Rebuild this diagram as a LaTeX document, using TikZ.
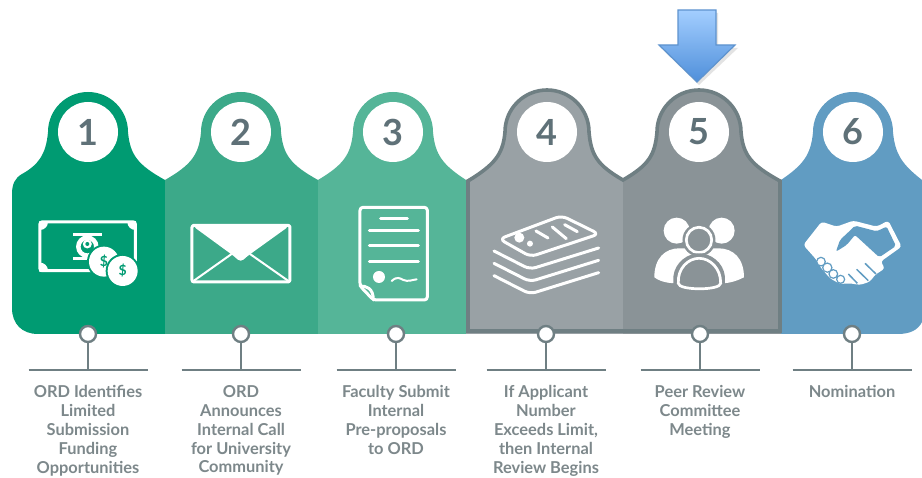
\documentclass[tikz,border=0pt]{standalone}
\usepackage{fontspec}
\setmainfont{Lato}
\definecolor{tabA}{HTML}{009B72}
\definecolor{tabB}{HTML}{3CA989}
\definecolor{tabC}{HTML}{55B598}
\definecolor{tabD}{HTML}{99A1A5}
\definecolor{tabE}{HTML}{8A9397}
\definecolor{tabF}{HTML}{619CC2}
\definecolor{edge}{HTML}{6F7F83}
\definecolor{numc}{HTML}{5F7178}
\definecolor{labc}{HTML}{7D888B}
\definecolor{arrowedge}{HTML}{5E93CE}
\definecolor{arrowtop}{HTML}{A3CEFF}
\definecolor{arrowbot}{HTML}{4F8FDA}
\tikzset{
  ring/.style={circle,draw=edge,fill=white,line width=2.4pt,minimum size=16pt,inner sep=0pt},
  conn/.style={draw=edge,line width=2.4pt},
  badge/.style={circle,fill=white,minimum size=60pt,inner sep=0pt,text=numc,font=\fontsize{36}{36}\selectfont\bfseries},
  steplabel/.style={anchor=north,align=center,text=labc,inner sep=0pt,font=\fontsize{16.4}{18.8}\selectfont\bfseries},
  ink/.style={draw=white,line width=3pt,line join=round,line cap=round},
  thin ink/.style={draw=white,line width=2pt,line join=round,line cap=round},
}
% head profile: left valley, centre, right valley, radius
\newcommand{\headpath}[4]{(#1,180) .. controls ({#2-#4-10},165) and ({#2-#4-2},155) .. ({#2-#4},132)
  arc[start angle=180,end angle=360,radius=#4] .. controls ({#2+#4+2},155) and ({#2+#4+10},165) .. (#3,180)}
% connector and label below a tab: ring x, badge x, number, text
\newcommand{\stepitem}[4]{%
  \node[ring] (r#3) at (#1,334) {};
  \coordinate (bl#3) at ({#1-59.5},370);
  \coordinate (br#3) at ({#1+59.5},370);
  \coordinate (bm#3) at (#1,370);
  \draw[conn] (r#3) -- (bm#3);
  \draw[conn] (bl#3) -- (br#3);
  \node[badge] (n#3) at (#2,132) {#3};
  \node[steplabel] (t#3) at (#1,385.5) {#4};
}
\begin{document}
\begin{tikzpicture}[x=1pt,y=-1pt]
\useasboundingbox (0,0) rectangle (922,478);
\fill[white] (0,0) rectangle (922,478);

% tabs
\fill[tabA] (12,194) .. controls (12,184) and (15,178) .. (22,174) .. controls (38,165) and (46,155) .. (48,132)
  arc[start angle=180,end angle=360,radius=40] .. controls (130,155) and (138,165) .. (165,180)
  -- (165,334) -- (38,334) .. controls (22,334) and (12,324) .. (12,308) -- cycle;
\fill[tabB] \headpath{165}{241}{318}{40} -- (318,334) -- (165,334) -- cycle;
\fill[tabC] \headpath{318}{393}{466}{40} -- (466,334) -- (318,334) -- cycle;
\fill[tabD] \headpath{466}{547}{623}{43} -- (623,334) -- (466,334) -- cycle;
\fill[tabE] \headpath{623}{699}{781}{43} -- (781,334) -- (623,334) -- cycle;
\fill[tabF] \headpath{781}{853}{922}{40} -- (922,322) .. controls (918,330) and (910,334) .. (898,334) -- (781,334) -- cycle;
\draw[edge,line width=3.6pt,line join=miter]
  (468,181) .. controls (494,165) and (503,155) .. (505,132)
  arc[start angle=180,end angle=360,radius=42] .. controls (591,155) and (597,165) .. (623,180)
  .. controls (649,165) and (655,155) .. (657,132)
  arc[start angle=180,end angle=360,radius=42] .. controls (743,155) and (751,165) .. (780,181)
  -- (780,331) -- (468,331) -- cycle;

% connectors, badges and labels
\stepitem{88}{88}{1}{ORD Identifies\\Limited\\Submission\\Funding\\Opportunities}
\stepitem{241}{241}{2}{ORD\\Announces\\Internal Call\\for University\\Community}
\stepitem{396}{393}{3}{Faculty Submit\\Internal\\Pre-proposals\\to ORD}
\stepitem{546}{547}{4}{If Applicant\\Number\\Exceeds Limit,\\then Internal\\Review Begins}
\stepitem{700}{699}{5}{Peer Review\\Committee\\Meeting}
\stepitem{852}{853}{6}{Nomination}

% money icon
\begin{scope}[shift={(0,80)},x=0.3333pt,y=-0.3333pt]
  \begin{scope}
    \clip (118,424) rectangle (408,574);
    \foreach \p in {(120,426),(406,426),(120,572)} \fill[white] \p circle[radius=8pt];
  \end{scope}
  \draw[white,line width=3pt,rounded corners=2pt] (120,426) rectangle (406,572);
  \fill[white] (220,458) rectangle (305,468);
  \fill[white] (220,530) rectangle (300,540);
  \draw[white,line width=4.5pt] (262,500) circle[radius=9pt];
  \fill[white] (262,492) circle[radius=4.5pt];
  \fill[tabA] (262,492) circle[radius=2pt];
  \fill[tabA] (312,545) circle[radius=17pt];
  \fill[white] (312,545) circle[radius=15pt];
  \node[text=tabA,font=\fontsize{14}{14}\selectfont\bfseries] (d1) at (312,545) {\$};
  \fill[tabA] (368,573) circle[radius=17pt];
  \fill[white] (368,573) circle[radius=15pt];
  \node[text=tabA,font=\fontsize{14}{14}\selectfont\bfseries] (d2) at (368,573) {\$};
\end{scope}

% envelope icon
\begin{scope}[shift={(0,80)},x=0.3333pt,y=-0.3333pt]
  \draw[ink,rounded corners=2pt] (576,436) rectangle (870,606);
  \fill[white,rounded corners=4pt] (578,438) -- (868,438) -- (740,530) -- (722,547) -- (704,530) -- cycle;
  \draw[thin ink] (582,602) -- (695,522);
  \draw[thin ink] (864,602) -- (750,522);
\end{scope}

% document icon
\begin{scope}[shift={(310,80)},x=0.3333pt,y=-0.3333pt]
  \draw[ink,rounded corners=3pt] (150,382) -- (352,382) -- (352,660) -- (190,660) -- (150,618) -- cycle;
  \draw[ink] (150,618) .. controls (170,618) and (190,625) .. (190,660);
  \draw[ink] (212,416) -- (292,416);
  \draw[ink] (178,452) -- (325,452);
  \draw[ink] (178,498) -- (325,498);
  \draw[ink] (178,545) -- (325,545);
  \fill[white] (207,591) circle[radius=6pt];
  \draw[thin ink] (245,603) .. controls (262,588) and (270,595) .. (280,600) .. controls (295,606) and (305,600) .. (320,598);
\end{scope}

% stack icon
\begin{scope}[shift={(310,80)},x=0.3333pt,y=-0.3333pt]
  \draw[ink,rounded corners=6pt] (568,477) -- (755,407) -- (867,462) -- (662,530) -- cycle;
  \draw[ink] (678,453) -- (714,474);
  \draw[ink] (727,441) -- (769,476);
  \draw[ink] (764,434) -- (802,455);
  \fill[white] (628,473) circle[radius=5pt];
  \fill[white] (660,491) circle[radius=3pt];
  \foreach \d in {0,37,74} {
    \draw[ink,rounded corners=6pt] (552,{513+\d}) -- (660,{568+\d}) -- (866,{504+\d});
  }
\end{scope}

% people icon
\begin{scope}[shift={(620,0)},x=0.3333pt,y=-0.3333pt]
  \fill[white] (170,692) circle[radius=13pt];
  \fill[white] (305,692) circle[radius=13pt];
  \fill[white] (103,832) .. controls (103,775) and (135,745) .. (178,745)
    -- (295,745) .. controls (340,745) and (372,775) .. (372,832)
    .. controls (340,848) and (320,850) .. (300,850) -- (175,850) .. controls (150,850) and (125,848) .. (103,832) -- cycle;
  \fill[tabE] (237,720) circle[radius=16.5pt];
  \draw[white,line width=2.7pt,fill=tabE] (237,720) circle[radius=12.7pt];
  \fill[tabE] (160,880) -- (160,830) .. controls (165,785) and (205,760) .. (237,760)
    .. controls (270,760) and (310,785) .. (315,830) -- (315,880) -- cycle;
  \draw[white,line width=2.7pt] (175,850) .. controls (172,805) and (205,775) .. (237,775)
    .. controls (270,775) and (303,805) .. (302,850)
    .. controls (302,872) and (175,872) .. (175,850) -- cycle;
\end{scope}

% handshake icon
\begin{scope}[shift={(620,0)},x=0.3333pt,y=-0.3333pt]
  \fill[white,rounded corners=3pt] (550,735) -- (605,665) -- (650,680) -- (700,662) -- (770,680) -- (805,662) -- (845,740)
    -- (782,785) -- (795,805) -- (765,825) -- (750,845) -- (720,855) -- (690,850) -- (660,852) -- (630,835) -- (600,800) -- (590,780) -- cycle;
  \fill[tabF,rounded corners=2pt] (648,755) -- (660,720) -- (690,692) -- (705,677) -- (770,694) -- (800,680) -- (828,738)
    -- (778,772) -- (705,705) -- (680,735) -- cycle;
  \draw[tabF,line width=1.5pt] (735,790) -- (768,822) (710,808) -- (745,842) (685,822) -- (712,850);
  \draw[tabF,line width=1.2pt,fill=white] (603,785) circle[radius=4.3pt] (622,803) circle[radius=4.6pt] (640,822) circle[radius=4.3pt] (662,838) circle[radius=4pt];
\end{scope}

% pointer arrow
\fill[gray,opacity=.22] (680,13) -- (718,13) -- (718,48) -- (738,48) -- (699,85) -- (661,48) -- (680,48) -- cycle;
\path[draw=arrowedge,line width=1.2pt,top color=arrowtop,bottom color=arrowbot]
  (678,10) -- (716,10) -- (716,45) -- (735,45) -- (697,82) -- (659,45) -- (678,45) -- cycle;
\end{tikzpicture}
\end{document}
